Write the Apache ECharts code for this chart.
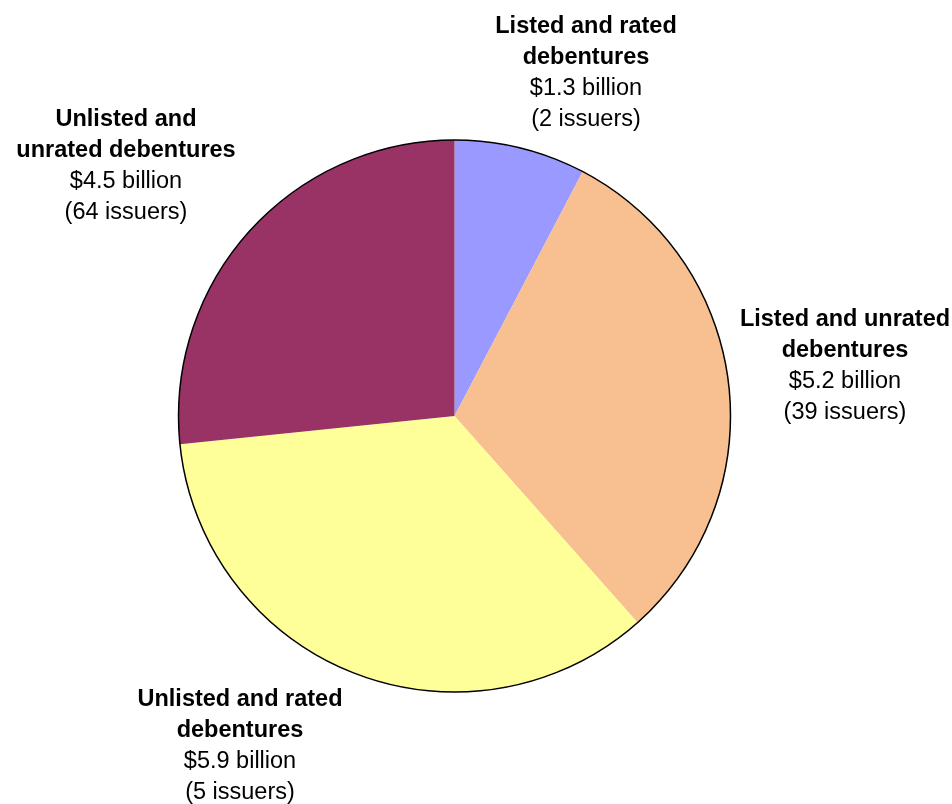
<!DOCTYPE html>
<html>
<head>
<meta charset="utf-8">
<script src="https://cdn.jsdelivr.net/npm/echarts@6/dist/echarts.min.js"></script>
<style>
  html, body { margin: 0; padding: 0; background: #fff; }
  #chart { width: 952px; height: 804px; }
</style>
</head>
<body>
<div id="chart"></div>
<script>
// Debenture segments, in clockwise order from 12 o'clock
const categories = [
  'Listed and rated\ndebentures',
  'Listed and unrated\ndebentures',
  'Unlisted and rated\ndebentures',
  'Unlisted and\nunrated debentures'
];
const amountsBillion = [1.3, 5.2, 5.9, 4.5];
const issuerCounts = [2, 39, 5, 64];

const sliceColors = ['#9999FF', '#F8C090', '#FFFF99', '#993366'];
// Centre point of each label block, in pixels
const labelCentres = [[586, 73], [845, 366], [240, 746], [126, 166]];

const chart = echarts.init(document.getElementById('chart'));

const pieData = categories.map((name, i) => ({
  name: name,
  value: amountsBillion[i],
  itemStyle: { color: sliceColors[i] }
}));

chart.setOption({
  animation: false,
  backgroundColor: '#fff',
  series: [
    {
      type: 'pie',
      center: [454.5, 416],
      radius: 276,
      startAngle: 90,
      clockwise: true,
      data: pieData,
      itemStyle: { borderWidth: 0 },
      labelLine: { show: false },
      label: {
        show: true,
        position: 'outside',
        overflow: 'none',
        width: 400,
        formatter: function (p) {
          const i = p.dataIndex;
          const nameLines = categories[i].split('\n').map(s => '{b|' + s + '}');
          return nameLines.concat([
            '{n|$' + amountsBillion[i].toFixed(1) + ' billion}',
            '{n|(' + issuerCounts[i] + ' issuers)}'
          ]).join('\n');
        },
        rich: {
          b: { fontFamily: 'Liberation Sans, Arial, sans-serif', fontSize: 23.5, fontWeight: 'bold', color: '#000', lineHeight: 31, align: 'center' },
          n: { fontFamily: 'Liberation Sans, Arial, sans-serif', fontSize: 23.5, color: '#000', lineHeight: 31, align: 'center' }
        }
      },
      labelLayout: function (params) {
        const c = labelCentres[params.dataIndex];
        return { x: c[0], y: c[1], align: 'center', verticalAlign: 'middle' };
      },
      emphasis: { disabled: true }
    },
    {
      // Outer outline of the pie
      type: 'pie',
      center: [454.5, 416],
      radius: 276,
      silent: true,
      data: [{ value: 1, name: 'outline' }],
      itemStyle: { color: 'rgba(0,0,0,0)', borderColor: '#000', borderWidth: 1.5 },
      label: { show: false },
      labelLine: { show: false },
      emphasis: { disabled: true }
    }
  ]
});
</script>
</body>
</html>
